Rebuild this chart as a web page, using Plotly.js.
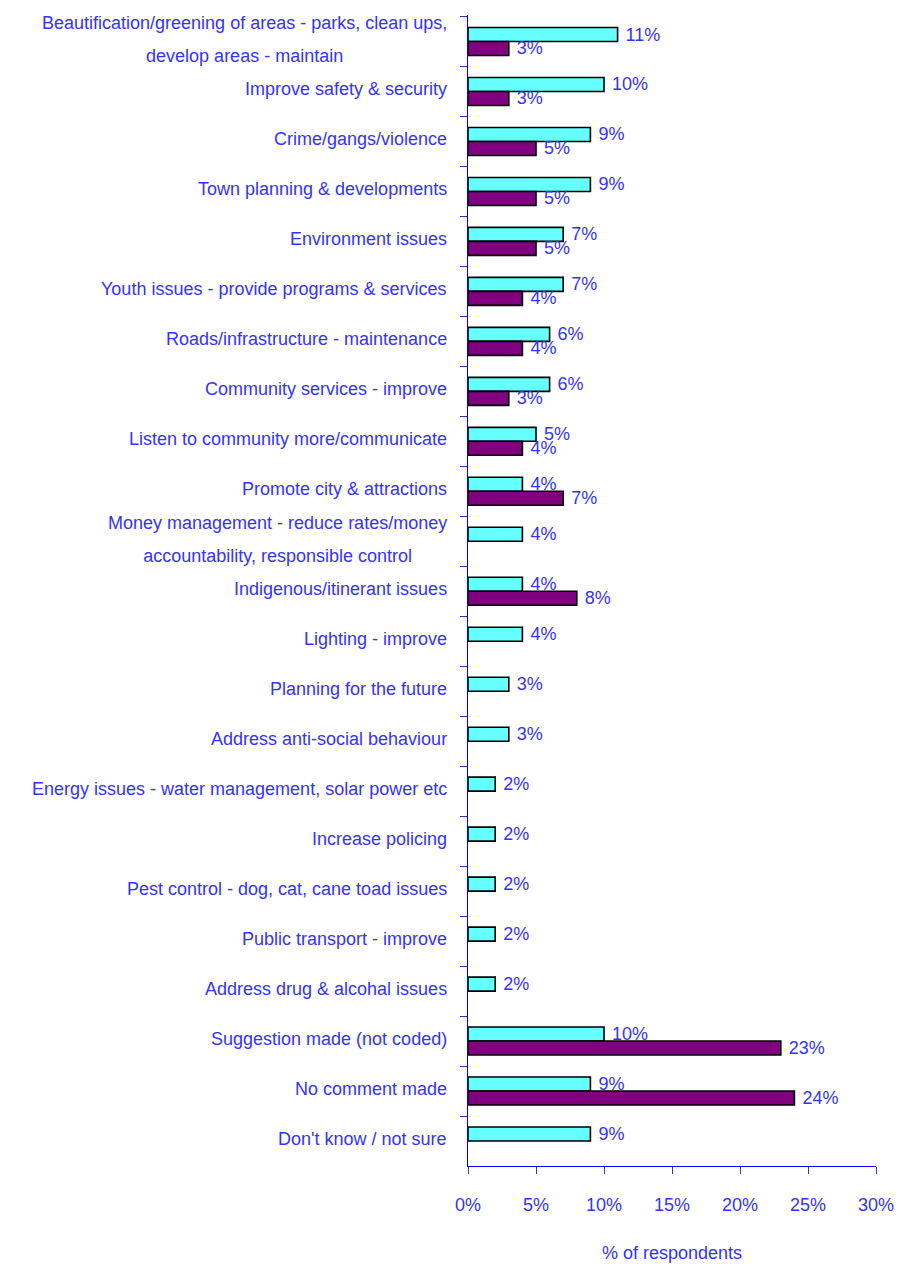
<!DOCTYPE html>
<html>
<head>
<meta charset="utf-8">
<script src="https://cdn.plot.ly/plotly-3.0.1.min.js"></script>
<style>html,body{margin:0;padding:0;background:#fff;}#chart{width:898px;height:1266px;}</style>
</head>
<body>
<div id="chart"></div>
<script>
var categories = [
  "Beautification/greening of areas - parks, clean ups,<br>develop areas - maintain",
  "Improve safety & security",
  "Crime/gangs/violence",
  "Town planning & developments",
  "Environment issues",
  "Youth issues - provide programs & services",
  "Roads/infrastructure - maintenance",
  "Community services - improve",
  "Listen to community more/communicate",
  "Promote city & attractions",
  "Money management - reduce rates/money<br>accountability, responsible control",
  "Indigenous/itinerant issues",
  "Lighting - improve",
  "Planning for the future",
  "Address anti-social behaviour",
  "Energy issues - water management, solar power etc",
  "Increase policing",
  "Pest control - dog, cat, cane toad issues",
  "Public transport - improve",
  "Address drug & alcohal issues",
  "Suggestion made (not coded)",
  "No comment made",
  "Don't know / not sure"
];
var seriesA = [11, 10, 9, 9, 7, 7, 6, 6, 5, 4, 4, 4, 4, 3, 3, 2, 2, 2, 2, 2, 10, 9, 9];
var seriesB = [3, 3, 5, 5, 5, 4, 4, 3, 4, 7, null, 8, null, null, null, null, null, null, null, null, 23, 24, null];

var blue = "#3333ff";
var font = "Liberation Sans, Arial, sans-serif";

function barTrace(values, color) {
  return {
    type: "bar", orientation: "h", y: categories, x: values,
    marker: {color: color, line: {color: "#000000", width: 1.6}},
    texttemplate: "\u00a0%{x:.0f}%", textposition: "outside", cliponaxis: false,
    constraintext: "none",
    textfont: {family: font, size: 18, color: blue},
    hoverinfo: "x+y"
  };
}

var annotations = categories.map(function (c) {
  var multi = c.indexOf("<br>") >= 0;
  return {
    xref: "paper", yref: "y", x: 0, y: c, xanchor: "right", yanchor: "middle",
    xshift: -19, yshift: 2,
    text: multi ? "<span style='font-size:18px'>" + c.split("<br>").join("</span><br><span style='font-size:18px'>") + "</span>" : c,
    showarrow: false, align: "center",
    font: {family: font, size: multi ? 25 : 18, color: blue}
  };
});

var layout = {
  width: 898, height: 1266,
  margin: {l: 468, r: 22, t: 15, b: 100, pad: 0},
  paper_bgcolor: "#ffffff", plot_bgcolor: "#ffffff",
  showlegend: false,
  barmode: "group", bargap: 0.44, bargroupgap: 0,
  font: {family: font, size: 18, color: blue},
  xaxis: {
    range: [0, 30], tick0: 0, dtick: 5, ticksuffix: "%",
    showgrid: false, zeroline: false,
    showline: true, linecolor: "#0000ff", linewidth: 1,
    ticks: "outside", ticklen: 7, tickcolor: "#3333cc", tickwidth: 1,
    ticklabelstandoff: 15,
    tickfont: {family: font, size: 18, color: blue},
    title: {text: "% of respondents", font: {family: font, size: 18, color: blue}, standoff: 32}
  },
  yaxis: {
    type: "category", categoryorder: "array", categoryarray: categories,
    autorange: "reversed",
    showticklabels: false, showgrid: false, zeroline: false,
    showline: true, linecolor: "#0000ff", linewidth: 1,
    ticks: "outside", tickson: "boundaries", ticklen: 7, tickcolor: "#3333cc", tickwidth: 1
  },
  annotations: annotations
};

Plotly.newPlot("chart", [barTrace(seriesA, "#66ffff"), barTrace(seriesB, "#800080")], layout, {displayModeBar: false, staticPlot: true});
</script>
</body>
</html>
